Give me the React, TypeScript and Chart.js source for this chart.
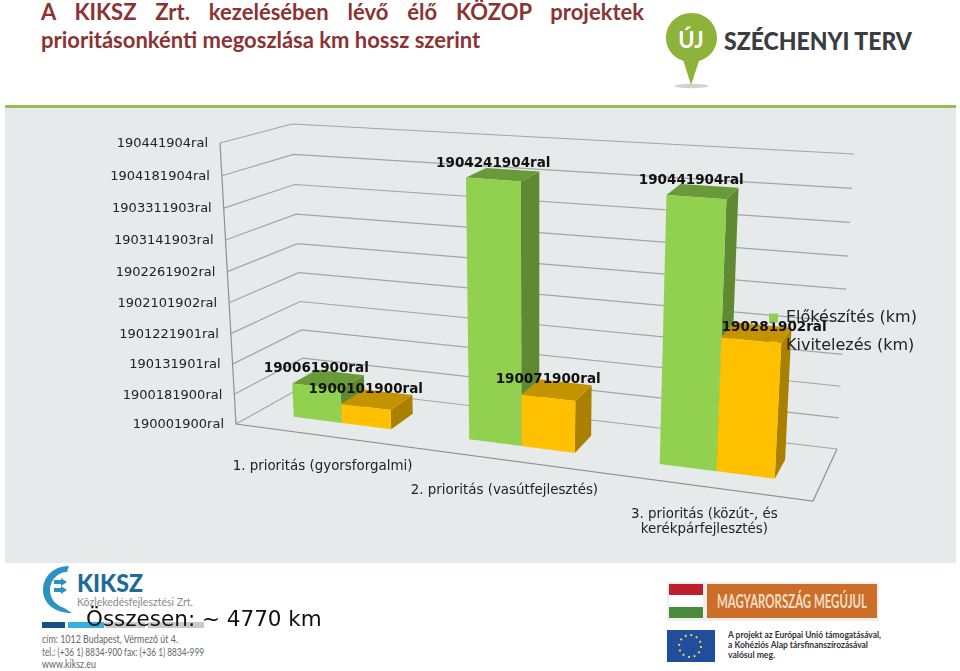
import React, { useEffect, useRef } from "react";
import { Chart, registerables } from "chart.js";

Chart.register(...registerables);

const categories = ["1. prioritás (gyorsforgalmi)", "2. prioritás (vasútfejlesztés)", ["3. prioritás (közút-, és", "kerékpárfejlesztés)"]];
const tickLabels = ["190001900ral", "1900181900ral", "190131901ral", "1901221901ral", "1902101902ral", "1902261902ral", "1903141903ral", "1903311903ral", "1904181904ral", "190441904ral"];
const preparation = [1.13, 8.22, 8.12];
const construction = [0.64, 1.66, 4.1];
const preparationLabels = ["190061900ral", "1904241904ral", "190441904ral"];
const constructionLabels = ["1900101900ral", "190071900ral", "190281902ral"];

type P = [number, number];
// Front and back planes of the 3D box: bottom-left, bottom-right, top-right, top-left
const FRONT: P[] = [[236, 424], [813, 501], [831, 185], [220, 143]];
const BACK: P[] = [[304, 386], [837, 449], [854, 154], [292, 124]];
const W1 = 0.315;
const W2 = 0.69;
const FONT = '"DejaVu Sans", sans-serif';

function homography(q: P[]) {
  const [[x0, y0], [x1, y1], [x2, y2], [x3, y3]] = q;
  const dx1 = x1 - x2, dx2 = x3 - x2, sx = x0 - x1 + x2 - x3;
  const dy1 = y1 - y2, dy2 = y3 - y2, sy = y0 - y1 + y2 - y3;
  const den = dx1 * dy2 - dx2 * dy1;
  const g = (sx * dy2 - dx2 * sy) / den;
  const h = (dx1 * sy - sx * dy1) / den;
  const a = x1 - x0 + g * x1, b = x3 - x0 + h * x3;
  const d = y1 - y0 + g * y1, e = y3 - y0 + h * y3;
  return (u: number, v: number): P => {
    const k = g * u + h * v + 1;
    return [(a * u + b * v + x0) / k, (d * u + e * v + y0) / k];
  };
}
const front = homography(FRONT);
const back = homography(BACK);
function project(u: number, v: number, w: number): P {
  const f = front(u, v), b = back(u, v);
  return [f[0] + (b[0] - f[0]) * w, f[1] + (b[1] - f[1]) * w];
}

function poly(ctx: CanvasRenderingContext2D, pts: P[], fill: string) {
  ctx.beginPath();
  pts.forEach((p, i) => (i ? ctx.lineTo(p[0], p[1]) : ctx.moveTo(p[0], p[1])));
  ctx.closePath();
  ctx.fillStyle = fill;
  ctx.fill();
}
function line(ctx: CanvasRenderingContext2D, pts: P[], color: string, width = 1.2) {
  ctx.beginPath();
  pts.forEach((p, i) => (i ? ctx.lineTo(p[0], p[1]) : ctx.moveTo(p[0], p[1])));
  ctx.strokeStyle = color;
  ctx.lineWidth = width;
  ctx.stroke();
}

const shades = [
  { front: "#92D050", side: "#5F8A33", top: "#689A3A" },
  { front: "#FFC000", side: "#A98000", top: "#C49300" },
];
const valueLabels = [preparationLabels, constructionLabels];
const labelNudge = [[[0, 0], [0, 2], [-5, 1]], [[0, 0], [0, 0], [23, 5]]];

const box3d = {
  id: "box3d",
  beforeLayout(chart: any) {
    // draw the legend above the bars
    chart.legend._layers = () => [{ z: 10, draw: (a: any) => chart.legend.draw(a) }];
  },
  afterLayout(chart: any) {
    const l = chart.legend;
    l.left = 757; l.right = 950; l.top = 298; l.bottom = 671;
  },
  beforeDatasetsDraw(chart: any) {
    const { ctx, chartArea: ca, scales } = chart;
    const ys = scales.y, xs = scales.x;
    const U = (x: number) => (x - ca.left) / (ca.right - ca.left);
    const V = (y: number) => (ca.bottom - y) / (ca.bottom - ca.top);
    const grid = "#A3A5A5";

    ctx.save();
    // walls
    ys.ticks.forEach((t: any) => {
      const v = V(ys.getPixelForValue(t.value));
      line(ctx, [project(0, v, 0), project(0, v, 1), project(1, v, 1)], grid);
    });
    line(ctx, [project(0, 1, 0), project(0, 0, 0), project(1, 0, 0), project(1, 0, 1)], "#8F9191");

    // tick labels
    ctx.font = `13px ${FONT}`;
    ctx.fillStyle = "#222";
    ctx.textAlign = "right";
    ctx.textBaseline = "middle";
    ys.ticks.forEach((t: any) => {
      const p = project(0, V(ys.getPixelForValue(t.value)), 0);
      ctx.fillText(t.label, p[0] - 12, p[1] + 1);
    });

    // category labels
    ctx.font = `13.4px ${FONT}`;
    ctx.textAlign = "center";
    ctx.textBaseline = "alphabetic";
    categories.forEach((_, i) => {
      const p = project(U(xs.getPixelForTick(i)), 0, 0);
      const lines = ([] as string[]).concat(xs.getLabelForValue(i) as any);
      const dx = i === 0 ? 0 : -2;
      lines.forEach((s, j) => ctx.fillText(s, p[0] + dx, p[1] + (i === 2 ? 31 : 34) + j * 15));
    });

    // bars, back to front within each group
    const metas = chart.data.datasets.map((_: any, i: number) => chart.getDatasetMeta(i));
    categories.forEach((_, c) => {
      metas.forEach((m: any, d: number) => {
        const el = m.data[c];
        const half = el.width / 2;
        const u0 = U(el.x - half), u1 = U(el.x + half);
        const v0 = V(el.base), v1 = V(el.y);
        const s = shades[d];
        poly(ctx, [project(u1, v0, W1), project(u1, v0, W2), project(u1, v1, W2), project(u1, v1, W1)], s.side);
        poly(ctx, [project(u0, v1, W1), project(u1, v1, W1), project(u1, v1, W2), project(u0, v1, W2)], s.top);
        poly(ctx, [project(u0, v0, W1), project(u1, v0, W1), project(u1, v1, W1), project(u0, v1, W1)], s.front);
      });
    });

    // value labels
    ctx.font = `bold 13.5px ${FONT}`;
    ctx.fillStyle = "#111";
    ctx.textAlign = "center";
    ctx.textBaseline = "middle";
    metas.forEach((m: any, d: number) => {
      m.data.forEach((el: any, c: number) => {
        const p = project(U(el.x), V(el.y), W1);
        const [nx, ny] = labelNudge[d][c];
        ctx.fillText(valueLabels[d][c], p[0] + nx, p[1] - 18 + ny);
      });
    });
    ctx.restore();
    return false;
  },
};

const Logos = () => (
  <svg width={960} height={671} style={{ position: "absolute", left: 0, top: 0 }}>
    {/* Új Széchenyi Terv */}
    <ellipse cx={691.5} cy={86} rx={17} ry={2.2} fill="#d2d2d2" />
    <path d="M691 85 L683.5 61 C672 57 666 48 666 38 C666 24 677 13 691.5 13 C706 13 717 24 717 38 C717 48 711 57 699 61 Z" fill="#8DB33B" />
    <text x={691} y={47.5} textAnchor="middle" fontFamily="Lato" fontWeight={700} fontSize={22} fill="#fff">ÚJ</text>
    <text x={724} y={50} fontFamily="Lato" fontWeight={900} fontSize={25} fill="#3a3d40" textLength={188} lengthAdjust="spacingAndGlyphs">SZÉCHENYI TERV</text>
    {/* KIKSZ */}
    <path d="M69 566 C52 566 43 578 43 590 C43 603 54 613 72 613 L64 608 C55 605 50 598 50 590 C50 580 58 572 67 572 Z" fill="#2b93c4" />
    <path d="M54 580 h7 v-2 l6 4 -6 4 v-2 h-7 Z M54 588 h7 v-2 l6 4 -6 4 v-2 h-7 Z" fill="#2b93c4" />
    <text x={77} y={592} fontFamily="Lato" fontWeight={900} fontSize={24} fill="#1e6a98" textLength={66} lengthAdjust="spacingAndGlyphs">KIKSZ</text>
    <text x={77} y={606} fontFamily="Lato" fontSize={12} fill="#8a8a8a" textLength={116} lengthAdjust="spacingAndGlyphs">Közlekedésfejlesztési Zrt.</text>
    <rect x={42} y={622} width={23} height={6} fill="#17527f" />
    <rect x={68} y={622} width={36} height={6} fill="#35aee0" />
    <rect x={105} y={622} width={40} height={6} fill="#c9c9c9" />
    <rect x={148} y={622} width={56} height={6} fill="#c9c9c9" />
    <g fontFamily="Lato" fontSize={10.5} fill="#666">
      <text x={42} y={643} textLength={136} lengthAdjust="spacingAndGlyphs">cím: 1012 Budapest, Vérmező út 4.</text>
      <text x={42} y={656} textLength={162} lengthAdjust="spacingAndGlyphs">tel.: (+36 1) 8834-900 fax: (+36 1) 8834-999</text>
      <text x={42} y={668} textLength={54} lengthAdjust="spacingAndGlyphs">www.kiksz.eu</text>
    </g>
    {/* Magyarország megújul */}
    <rect x={667} y={582} width={212} height={39} fill="#efefef" />
    <rect x={669} y={584} width={34} height={11} fill="#BE1E2D" />
    <rect x={669} y={595} width={34} height={12} fill="#fff" />
    <rect x={669} y={607} width={34} height={11} fill="#4B8B3B" />
    <rect x={707} y={584} width={170} height={34} fill="#CC6D28" />
    <text x={717} y={608} fontFamily="Lato" fontWeight={700} fontSize={18} fill="#F3DFC8" textLength={150} lengthAdjust="spacingAndGlyphs">MAGYARORSZÁG MEGÚJUL</text>
    {/* EU */}
    <rect x={667} y={630} width={48} height={32} fill="#1F4E9C" />
    <circle cx={690} cy={646} r={11} fill="none" stroke="#F5D33B" strokeWidth={2} strokeDasharray="2 3.76" />
    <g fontFamily="Lato" fontWeight={700} fontSize={10} fill="#333">
      <text x={728} y={638} textLength={153} lengthAdjust="spacingAndGlyphs">A projekt az Európai Unió támogatásával,</text>
      <text x={728} y={648} textLength={140} lengthAdjust="spacingAndGlyphs">a Kohéziós Alap társfinanszírozásával</text>
      <text x={728} y={658} textLength={47} lengthAdjust="spacingAndGlyphs">valósul meg.</text>
    </g>
  </svg>
);

export default function App() {
  const ref = useRef<HTMLCanvasElement>(null);
  useEffect(() => {
    const chart = new Chart(ref.current!, {
      type: "bar",
      data: {
        labels: categories as any,
        datasets: [
          { label: "Előkészítés (km)", data: preparation, backgroundColor: "#92D050", borderWidth: 0 },
          { label: "Kivitelezés (km)", data: construction, backgroundColor: "#FFC000", borderWidth: 0 },
        ],
      },
      options: {
        animation: false,
        responsive: false,
        devicePixelRatio: 1,
        layout: { padding: 0 },
        datasets: { bar: { categoryPercentage: 0.565, barPercentage: 1 } },
        scales: {
          x: { display: false, grid: { display: false } },
          y: {
            display: false,
            min: 0,
            max: 9,
            ticks: { stepSize: 1, callback: (_: any, i: number) => tickLabels[i] },
          },
        },
        plugins: {
          tooltip: { enabled: false },
          legend: {
            display: true,
            position: "right",
            align: "start",
            labels: { boxWidth: 9, boxHeight: 9, padding: 12, color: "#222", font: { family: "DejaVu Sans", size: 16 } },
          },
        },
      },
      plugins: [box3d as any],
    });
    return () => chart.destroy();
  }, []);

  return (
    <div style={{ position: "absolute", left: 0, top: 0, width: 960, height: 671, background: "#fff", overflow: "hidden" }}>
      <div style={{ position: "absolute", left: 41, top: -2, width: 603, fontFamily: "Lato", fontWeight: 700, fontSize: 22, lineHeight: "28px", color: "#8B3333" }}>
        <div style={{ textAlign: "justify", textAlignLast: "justify" }}>A KIKSZ Zrt. kezelésében lévő élő KÖZOP projektek</div>
        <div>prioritásonkénti megoszlása km hossz szerint</div>
      </div>
      <Logos />
      <div style={{ position: "absolute", left: 5, top: 105, width: 951, height: 3, background: "#9BBB59" }} />
      <div style={{ position: "absolute", left: 5, top: 108, width: 951, height: 455, background: "#E7EAEA" }} />
      <canvas ref={ref} width={960} height={671} style={{ position: "absolute", left: 0, top: 0 }} />
      <div style={{ position: "absolute", left: 86, top: 605, fontFamily: "DejaVu Sans", fontSize: 21.5, lineHeight: "28px", color: "#111" }}>Összesen: ~ 4770 km</div>
    </div>
  );
}
